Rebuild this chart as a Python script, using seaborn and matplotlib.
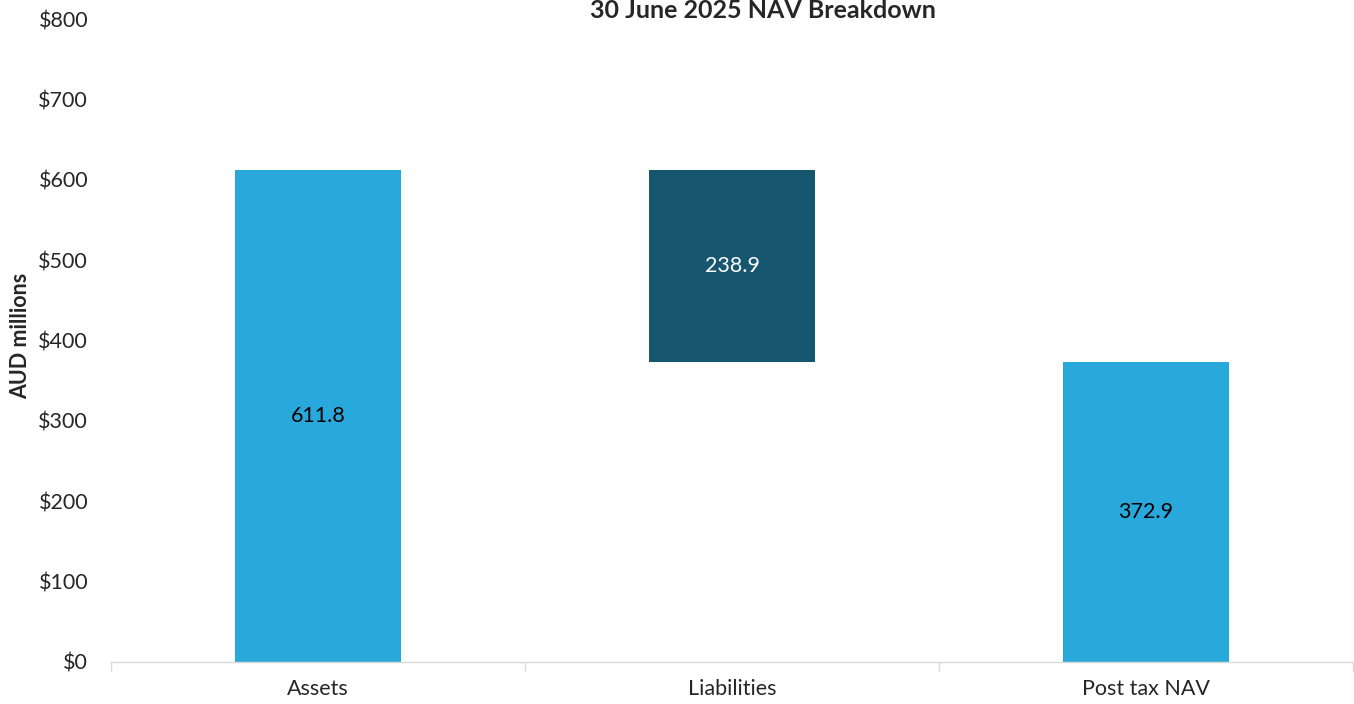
import matplotlib
matplotlib.use("Agg")
import matplotlib.pyplot as plt
import seaborn as sns
import pandas as pd
from matplotlib.ticker import FixedLocator

categories = ["Assets", "Liabilities", "Post tax NAV"]
bar_start = [0.0, 372.9, 0.0]
bar_end = [611.8, 611.8, 372.9]
bar_labels = ["611.8", "238.9", "372.9"]
colors = ["#29A9DB", "#16566F", "#29A9DB"]
label_colors = ["#000000", "#FFFFFF", "#000000"]
y_ticks = [0, 100, 200, 300, 400, 500, 600, 700, 800]

sns.set_theme(style="white")
plt.rcParams["font.family"] = ["Lato", "DejaVu Sans"]

df = pd.DataFrame({"category": categories, "end": bar_end, "start": bar_start})

fig = plt.figure(figsize=(13.54, 7.04), dpi=100)
ax = fig.add_axes([111 / 1354, 42 / 704, 1242 / 1354, 643 / 704])

sns.barplot(data=df, x="category", y="end", ax=ax, width=0.4, color=colors[0],
            saturation=1, edgecolor="none")

for i, p in enumerate(ax.patches):
    p.set_facecolor(colors[i])
    p.set_y(bar_start[i])
    p.set_height(bar_end[i] - bar_start[i])
    ax.text(p.get_x() + p.get_width() / 2, bar_start[i] + (bar_end[i] - bar_start[i]) / 2,
            bar_labels[i], ha="center", va="center", fontsize=15.5, color=label_colors[i])

ax.set_xlim(-0.5, 2.5)
ax.set_ylim(0, 800)
ax.set_yticks(y_ticks)
ax.set_yticklabels([f"${v}" for v in y_ticks], fontsize=15.5)
ax.tick_params(axis="y", length=0, pad=16.5)
ax.tick_params(axis="x", which="major", length=0, labelsize=15.5, pad=12.5)
ax.xaxis.set_minor_locator(FixedLocator([-0.5, 0.5, 1.5, 2.5]))
ax.tick_params(axis="x", which="minor", length=6.5, width=1, color="#D9D9D9", bottom=True)
ax.set_xlabel("")
ax.set_ylabel("")

for s in ["top", "right", "left"]:
    ax.spines[s].set_visible(False)
ax.spines["bottom"].set_color("#D9D9D9")
ax.spines["bottom"].set_linewidth(1)

fig.text(21 / 1354, 1 - 336 / 704, "AUD millions", rotation=90, ha="center", va="center",
         fontsize=15.5, fontweight="bold")
fig.text(763 / 1354, 1 - 11 / 704, "30 June 2025 NAV Breakdown", ha="center", va="center",
         fontsize=18, fontweight="bold")

fig.savefig("out.png", dpi=100)
